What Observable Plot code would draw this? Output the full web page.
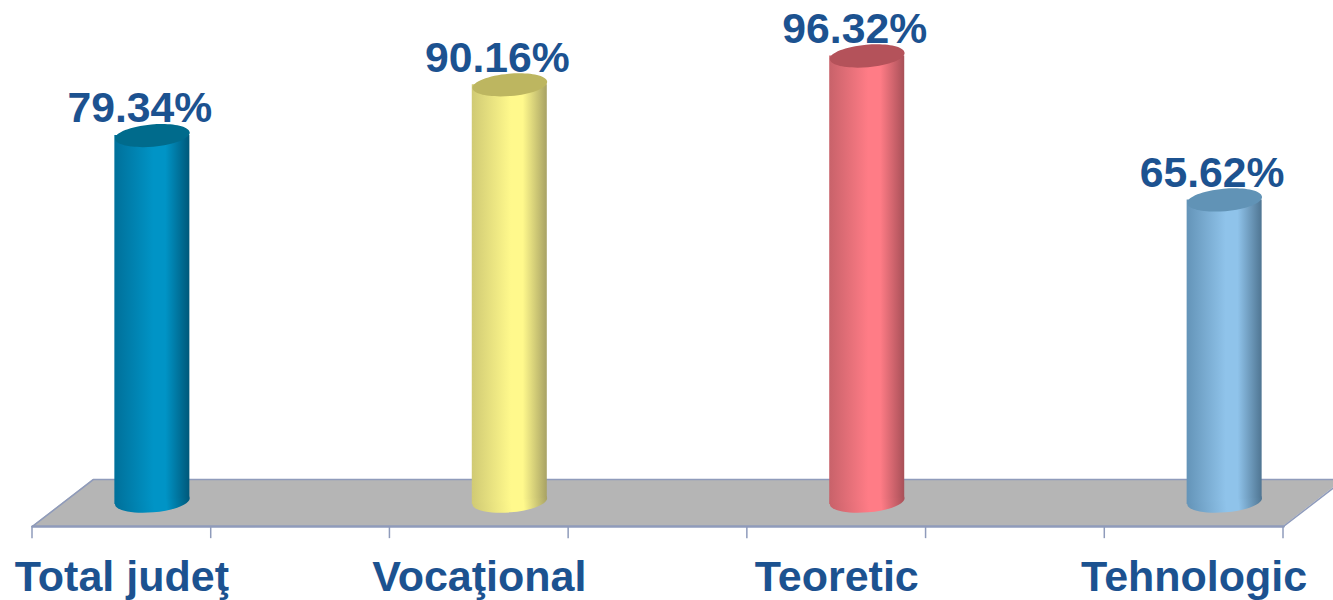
<!DOCTYPE html>
<html><head><meta charset="utf-8">
<script src="https://cdn.jsdelivr.net/npm/d3@7"></script>
<script src="https://cdn.jsdelivr.net/npm/@observablehq/plot@0.6"></script>
<style>html,body{margin:0;padding:0;background:#fff}svg{display:block}</style>
</head><body><div id="chart"></div>
<script>
const categories = ["Total judeţ", "Vocaţional", "Teoretic", "Tehnologic"];
const values = [79.34, 90.16, 96.32, 65.62];
const slots = [0.5, 2.5, 4.5, 6.5];
const tickSlots = [0, 1, 2, 3, 4, 5, 6, 7];
const edgeColors = ["#00587a", "#a8a264", "#a85058", "#4f7592"];
const midColors = ["#0094c6", "#fff98c", "#ff7c86", "#8fc3ea"];
const leftColors = ["#00709a", "#d0ca74", "#c8626a", "#6494b8"];
const topColors = ["#006b8c", "#bdb660", "#b4525a", "#6193b6"];
const floorBack = 6;
const floorFront = -4;
const baseValue = 1.4;
const baseTilt = 0.7;
const depth = 0.34;
const rows = categories.map((c, i) => ({c, v: values[i], s: slots[i], i}));
const edge = [{x: 0, y: floorFront}, {x: 7, y: floorFront}];
const ellipse = {draw(ctx, size) {
  const a = Math.sqrt(size / Math.PI), b = a * 0.3, k = 0.5523;
  ctx.moveTo(-a, 0);
  ctx.bezierCurveTo(-a, -b * k, -a * k, -b, 0, -b);
  ctx.bezierCurveTo(a * k, -b, a, -b * k, a, 0);
  ctx.bezierCurveTo(a, b * k, a * k, b, 0, b);
  ctx.bezierCurveTo(-a * k, b, -a, b * k, -a, 0);
  ctx.closePath();
}};
const defs = () => {
  const d = d3.create("svg:defs");
  rows.forEach((r, i) => {
    const g = d.append("linearGradient").attr("id", "cyl" + i);
    [[0, leftColors[i]], [0.52, midColors[i]], [0.68, midColors[i]], [1, edgeColors[i]]]
      .forEach(([o, c]) => g.append("stop").attr("offset", o).attr("stop-color", c));
  });
  return d.node();
};
const lineColor = "#8f9bbb";
const barDx = 30.5;
const halfW = 37.5;
const unit = 178.7;
const chart = Plot.plot({
  width: 1333, height: 600,
  marginTop: 0, marginLeft: 32, marginRight: 50, marginBottom: 74,
  x: {type: "linear", domain: [0, 7], range: [32, 1283], axis: null},
  y: {type: "linear", domain: [0, 100], range: [507.2, 38.2], axis: null},
  marks: [
    defs,
    Plot.area([{x1: 0, y1: floorFront, x2: depth, y2: floorBack}, {x1: 7, y1: floorFront, x2: 7 + depth, y2: floorBack}],
      {x1: "x1", y1: "y1", x2: "x2", y2: "y2", fill: "#b5b5b5"}),
    Plot.line([{x: 0, y: floorFront}, {x: depth, y: floorBack}, {x: 7 + depth, y: floorBack}, {x: 7, y: floorFront}],
      {x: "x", y: "y", stroke: lineColor, strokeWidth: 1.5}),
    Plot.line(edge, {x: "x", y: "y", stroke: lineColor, strokeWidth: 2.5}),
    Plot.ruleX(tickSlots, {x: d => d, y1: floorFront, y2: floorFront - 2.6, dx: -0.5, stroke: lineColor, strokeWidth: 1.5}),
    ...rows.flatMap(r => [
      Plot.dot([r], {x: "s", y: baseValue, r: halfW, symbol: ellipse, rotate: -5, dx: barDx, fill: `url(#cyl${r.i})`, stroke: "none"}),
      Plot.area([
        {x: r.s + (barDx - halfW) / unit, y1: baseValue - baseTilt, y2: r.v},
        {x: r.s + (barDx + halfW) / unit, y1: baseValue + baseTilt, y2: r.v}
      ], {x1: "x", y1: "y1", x2: "x", y2: "y2", fill: `url(#cyl${r.i})`}),
      Plot.dot([r], {x: "s", y: "v", r: halfW, symbol: ellipse, rotate: -5, dx: barDx, fill: topColors[r.i], stroke: "none"})
    ]),
    Plot.text(rows, {x: "s", y: "v", text: d => d.v.toFixed(2) + "%", dx: 18, dy: -27, fontSize: 42.7, fontWeight: 700, fontFamily: "Liberation Sans", fill: "#1c5290"}),
    Plot.text(rows, {x: "s", y: floorFront, text: "c", dy: 51, fontSize: 43, fontWeight: 700, fontFamily: "Liberation Sans", fill: "#1c5290"})
  ]
});
document.getElementById("chart").append(chart);
</script></body></html>
